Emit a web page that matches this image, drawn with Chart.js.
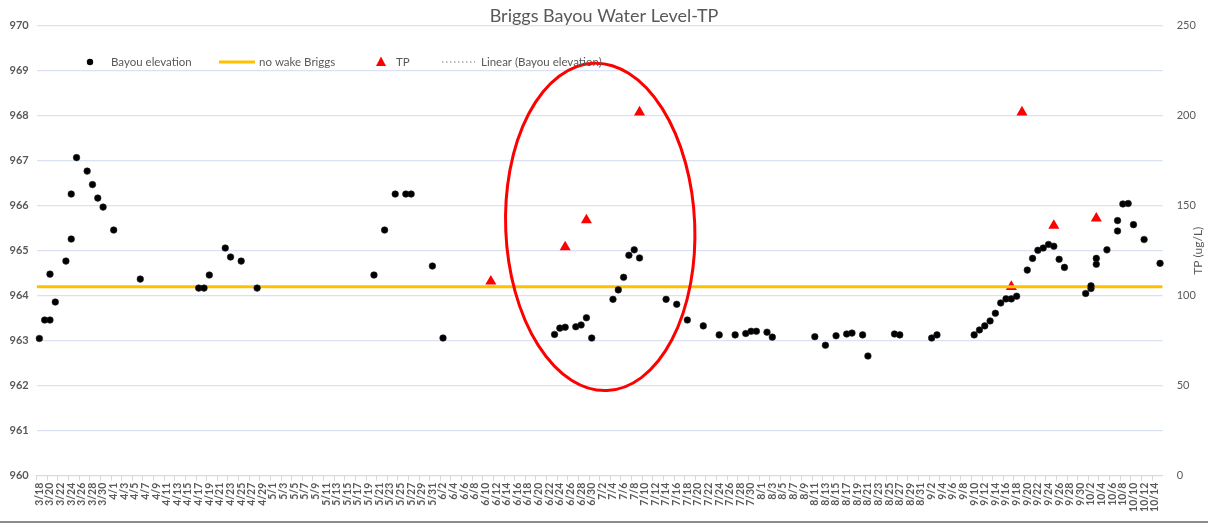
<!DOCTYPE html>
<html>
<head>
<meta charset="utf-8">
<script src="https://cdn.jsdelivr.net/npm/chart.js@4.4.0/dist/chart.umd.min.js"></script>
<style>
  html, body { margin: 0; padding: 0; background: #fff; }
  #wrap { width: 1208px; height: 521px; border-bottom: 2px solid #8c8c8c; }
</style>
</head>
<body>
<div id="wrap"><canvas id="myChart" width="1208" height="521"></canvas></div>
<script>
// date axis runs one slot per day, 3/18 .. 10/15, labelled every 2nd day
var firstDay = new Date(2019, 2, 18);
var dayCount = 212;
var days = [];
for (var i = 0; i < dayCount; i++) {
  var d = new Date(firstDay.getFullYear(), firstDay.getMonth(), firstDay.getDate() + i);
  days.push((d.getMonth() + 1) + '/' + d.getDate());
}

// Bayou elevation (ft)
var bayouDates = ['3/18','3/19','3/20','3/20','3/21','3/23','3/24','3/24','3/25','3/27','3/28','3/29','3/30','4/1','4/6',
  '4/17','4/18','4/19','4/22','4/23','4/25','4/28',
  '5/20','5/22','5/24','5/26','5/27','5/31','6/2',
  '6/23','6/24','6/25','6/27','6/28','6/29','6/30',
  '7/4','7/5','7/6','7/7','7/8','7/9','7/14','7/16','7/18','7/21','7/24','7/27','7/29','7/30','7/31','8/2','8/3',
  '8/11','8/13','8/15','8/17','8/18','8/20','8/21','8/26','8/27','9/2','9/3',
  '9/10','9/11','9/12','9/13','9/14','9/15','9/16','9/17','9/18','9/20','9/21','9/22','9/23','9/24','9/25','9/26','9/27',
  '10/1','10/2','10/2','10/3','10/3','10/5','10/7','10/7','10/8','10/9','10/10','10/12','10/15'];
var bayouLevels = [963.05,963.46,963.46,964.48,963.86,964.77,965.26,966.26,967.07,966.77,966.47,966.17,965.97,965.46,964.37,
  964.17,964.17,964.46,965.06,964.86,964.77,964.17,
  964.46,965.46,966.26,966.26,966.26,964.66,963.06,
  963.14,963.28,963.30,963.31,963.35,963.51,963.06,
  963.92,964.13,964.41,964.90,965.02,964.84,963.92,963.81,963.46,963.33,963.13,963.13,963.16,963.21,963.21,963.19,963.08,
  963.09,962.90,963.11,963.15,963.17,963.13,962.66,963.15,963.13,963.06,963.13,
  963.13,963.24,963.33,963.44,963.61,963.84,963.93,963.93,963.99,964.57,964.83,965.01,965.06,965.14,965.10,964.81,964.63,
  964.05,964.16,964.22,964.70,964.83,965.02,965.44,965.67,966.04,966.05,965.58,965.25,964.72];

// TP (ug/L)
var tpDates = ['6/11','6/25','6/29','7/9','9/17','9/19','9/25','10/3'];
var tpValues = [108, 127, 142, 202, 105, 202, 139, 143];

// no wake level
var noWakeLevel = 964.2;

// circled period (day index, elevation)
var circle = { day: 105.6, level: 965.53, rDays: 17.8, rLevel: 3.64, tilt: -2.4 };

function pairs(xs, ys) {
  return xs.map(function (x, i) { return { x: x, y: ys[i] }; });
}

var ink = '#595959';

var circlePlugin = {
  id: 'circle',
  afterDatasetsDraw: function (chart) {
    var xs = chart.scales.x, ys = chart.scales.y, ctx = chart.ctx;
    var cx = xs.getPixelForValue(circle.day);
    var cy = ys.getPixelForValue(circle.level);
    var rx = Math.abs(xs.getPixelForValue(circle.day + circle.rDays) - cx);
    var ry = Math.abs(ys.getPixelForValue(circle.level + circle.rLevel) - cy);
    ctx.save();
    ctx.strokeStyle = '#ff0000';
    ctx.lineWidth = 3;
    ctx.beginPath();
    ctx.ellipse(cx, cy, rx, ry, circle.tilt * Math.PI / 180, 0, Math.PI * 2);
    ctx.stroke();
    ctx.restore();
  }
};

var legendPlugin = {
  id: 'sheetLegend',
  afterDraw: function (chart) {
    var ctx = chart.ctx, ds = chart.data.datasets, y = 62;
    ctx.save();
    ctx.font = '11.5px Lato';
    ctx.fillStyle = ink;
    ctx.textBaseline = 'middle';
    // Bayou elevation
    ctx.beginPath();
    ctx.arc(90, y, 3.2, 0, Math.PI * 2);
    ctx.fillStyle = '#000';
    ctx.fill();
    ctx.fillStyle = ink;
    ctx.fillText(ds[0].label, 111, y);
    // no wake Briggs
    ctx.strokeStyle = '#ffc000';
    ctx.lineWidth = 3;
    ctx.beginPath();
    ctx.moveTo(219, y); ctx.lineTo(255, y);
    ctx.stroke();
    ctx.fillText(ds[1].label, 259, y);
    // TP
    ctx.fillStyle = '#ff0000';
    ctx.beginPath();
    ctx.moveTo(381, y - 5.5); ctx.lineTo(386, y + 4); ctx.lineTo(376, y + 4);
    ctx.closePath();
    ctx.fill();
    ctx.fillStyle = ink;
    ctx.fillText(ds[2].label, 396, y);
    // Linear trend
    ctx.strokeStyle = '#a6a6a6';
    ctx.lineWidth = 1.5;
    ctx.setLineDash([1.5, 2.5]);
    ctx.beginPath();
    ctx.moveTo(442, y); ctx.lineTo(475, y);
    ctx.stroke();
    ctx.setLineDash([]);
    ctx.fillText(ds[3].label, 481, y);
    // right axis title
    var a = chart.chartArea;
    ctx.translate(1198, (a.top + a.bottom) / 2);
    ctx.rotate(-Math.PI / 2);
    ctx.textAlign = 'center';
    ctx.font = '12px Lato';
    ctx.fillText('TP (ug/L)', 0, 0);
    ctx.restore();
  }
};

var ctx = document.getElementById('myChart');
var myChart = new Chart(ctx, {
  type: 'line',
  data: {
    labels: days,
    datasets: [
      {
        label: 'Bayou elevation',
        data: pairs(bayouDates, bayouLevels),
        showLine: false,
        pointRadius: 3.3,
        pointBackgroundColor: '#000',
        pointBorderColor: '#222',
        pointBorderWidth: 0.6,
        yAxisID: 'y'
      },
      {
        label: 'no wake Briggs',
        data: [{ x: 0, y: noWakeLevel }, { x: 1, y: noWakeLevel }],
        borderColor: '#ffc000',
        borderWidth: 3,
        pointRadius: 0,
        xAxisID: 'x2',
        yAxisID: 'y'
      },
      {
        label: 'TP',
        data: pairs(tpDates, tpValues),
        showLine: false,
        pointStyle: 'triangle',
        pointRadius: 6.4,
        pointBackgroundColor: '#ff0000',
        pointBorderColor: '#ff0000',
        pointBorderWidth: 0,
        yAxisID: 'y1'
      },
      {
        label: 'Linear (Bayou elevation)',
        data: [],
        borderColor: '#a6a6a6',
        borderDash: [2, 2],
        pointRadius: 0,
        yAxisID: 'y'
      }
    ]
  },
  options: {
    responsive: false,
    animation: false,
    layout: { padding: 0 },
    plugins: {
      legend: { display: false },
      tooltip: { enabled: false },
      title: {
        display: true,
        text: 'Briggs Bayou Water Level-TP',
        color: ink,
        font: { family: 'Lato', size: 18, weight: 'normal', lineHeight: 1.1 },
        padding: { top: 6, bottom: 0 }
      }
    },
    scales: {
      x: {
        type: 'category',
        offset: true,
        grid: {
          offset: true,
          drawOnChartArea: false,
          tickLength: 5,
          color: function (c) { return c.index % 2 === 0 ? '#d9d9d9' : 'rgba(0,0,0,0)'; }
        },
        border: { color: '#d9d9d9' },
        ticks: {
          autoSkip: false,
          minRotation: 90,
          maxRotation: 90,
          padding: 2,
          color: ink,
          font: { family: 'Lato', size: 10.5, weight: 'bold' },
          callback: function (v, i) { return i % 2 === 0 ? days[i] : ''; }
        },
        afterFit: function (s) { s.height = 45.3; }
      },
      x2: { type: 'linear', min: 0, max: 1, display: false },
      y: {
        position: 'left',
        min: 960,
        max: 970,
        grid: { color: '#d9e1f2', lineWidth: 1.3, drawTicks: false },
        border: { display: false },
        ticks: {
          stepSize: 1,
          padding: 8,
          color: ink,
          font: { family: 'Lato', size: 11, weight: 'bold' }
        },
        afterFit: function (s) { s.width = 36.7; }
      },
      y1: {
        position: 'right',
        min: 0,
        max: 250,
        grid: { drawOnChartArea: false, drawTicks: false },
        border: { display: false },
        ticks: {
          stepSize: 50,
          padding: 14,
          color: ink,
          font: { family: 'Lato', size: 11 }
        },
        afterFit: function (s) { s.width = 45.3; }
      }
    }
  },
  plugins: [circlePlugin, legendPlugin]
});
</script>
</body>
</html>
